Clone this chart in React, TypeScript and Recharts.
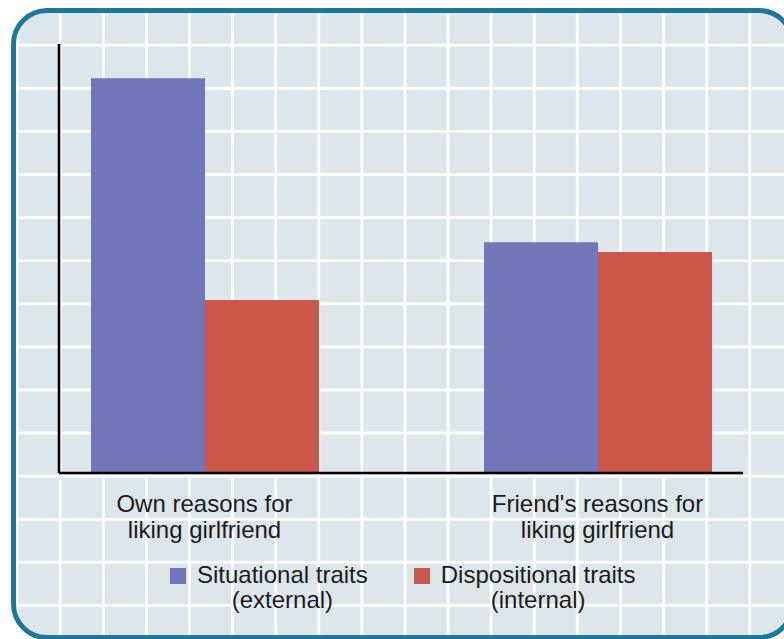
import React from "react";
import { BarChart, Bar, XAxis, YAxis, Legend } from "recharts";

// categories (line breaks mark where the label wraps)
const categories = ["Own reasons for\nliking girlfriend", "Friend's reasons for\nliking girlfriend"];
// series values on a 0-100 scale
const situational = [92, 53.8];
const dispositional = [40.3, 51.5];
const seriesNames = ["Situational traits\n(external)", "Dispositional traits\n(internal)"];

const data = categories.map((name, i) => ({
  name,
  situational: situational[i],
  dispositional: dispositional[i],
}));

const FONT = "'Liberation Sans', Arial, Helvetica, sans-serif";
const TEXT = "#1c1c1c";
const BLUE = "#7276b8";
const RED = "#c9574a";

// Two-line category label under each group
const CategoryTick = (props: any) => {
  const { x, y, payload } = props;
  const lines = String(payload.value).split("\n");
  return (
    <text x={x} y={y} textAnchor="middle" fill={TEXT} fontSize={24} fontFamily={FONT}>
      {lines.map((line, i) => (
        <tspan key={i} x={x} dy={i === 0 ? 31 : 26}>
          {line}
        </tspan>
      ))}
    </text>
  );
};

// Legend with square swatches and centred two-line names, kept in series order
const LegendContent = (props: any) => {
  const { payload = [] } = props;
  const items = [...payload].sort((a: any, b: any) => seriesNames.indexOf(a.value) - seriesNames.indexOf(b.value));
  return (
    <div style={{ display: "flex", gap: 46, fontFamily: FONT, fontSize: 24, lineHeight: "25px", color: TEXT }}>
      {items.map((entry: any) => (
        <div key={entry.value} style={{ display: "flex", alignItems: "flex-start" }}>
          <span style={{ width: 16, height: 16, background: entry.color, marginTop: 6, marginRight: 11, flex: "none" }} />
          <div style={{ textAlign: "center", whiteSpace: "pre" }}>{entry.value}</div>
        </div>
      ))}
    </div>
  );
};

export default function App() {
  return (
    <div style={{ position: "fixed", left: 0, top: 0, width: 784, height: 639, overflow: "hidden", background: "#fff" }}>
      {/* rounded frame with the graph-paper background */}
      <div
        style={{
          position: "absolute",
          left: 11,
          top: 8,
          width: 784,
          height: 632,
          boxSizing: "border-box",
          border: "5px solid #1f7899",
          borderRadius: 36,
          backgroundColor: "#dde6ea",
          backgroundImage:
            "linear-gradient(to right, rgba(255,255,255,0.9) 2.5px, transparent 2.5px), linear-gradient(to bottom, rgba(255,255,255,0.9) 2.5px, transparent 2.5px)",
          backgroundSize: "43.1px 43.1px",
          backgroundPosition: "-0.35px 30.75px",
        }}
      />
      <div style={{ position: "absolute", left: 0, top: 0 }}>
        <BarChart
          width={784}
          height={639}
          data={data}
          margin={{ top: 44, right: 41, bottom: 106, left: 58 }}
          barCategoryGap={83}
          barGap={0}
        >
          <XAxis
            dataKey="name"
            height={60}
            padding={{ left: -51, right: -51 }}
            axisLine={{ stroke: "#000", strokeWidth: 2.5 }}
            tickLine={false}
            tick={<CategoryTick />}
            interval={0}
          />
          <YAxis
            domain={[0, 100]}
            width={1}
            tick={false}
            tickLine={false}
            axisLine={{ stroke: "#000", strokeWidth: 2.5 }}
          />
          <Legend
            layout="vertical"
            verticalAlign="middle"
            align="center"
            wrapperStyle={{ top: 562, left: 170, width: 600 }}
            content={<LegendContent />}
          />
          <Bar dataKey="situational" name={seriesNames[0]} fill={BLUE} isAnimationActive={false} />
          <Bar dataKey="dispositional" name={seriesNames[1]} fill={RED} isAnimationActive={false} />
        </BarChart>
      </div>
    </div>
  );
}
